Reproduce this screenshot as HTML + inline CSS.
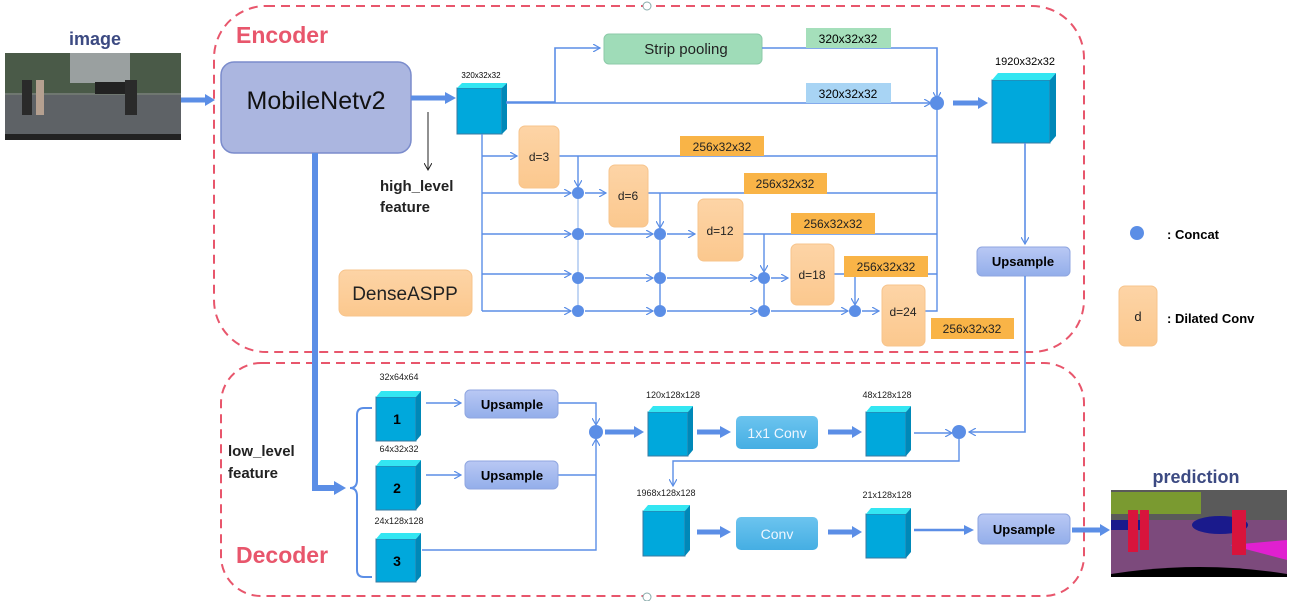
<!DOCTYPE html>
<html><head><meta charset="utf-8"><style>
html,body{margin:0;padding:0;background:#fff;}
svg{display:block;font-family:"Liberation Sans",Arial,sans-serif;}
</style></head><body>
<svg width="1289" height="601" viewBox="0 0 1289 601" xmlns="http://www.w3.org/2000/svg">
<defs>
<marker id="a" markerWidth="8" markerHeight="8" refX="7" refY="4" orient="auto" markerUnits="userSpaceOnUse"><path d="M0,0 L7,4 L0,8" fill="none" stroke="#5b8ee6" stroke-width="1.2"/></marker>
<marker id="k" markerWidth="8" markerHeight="8" refX="7" refY="4" orient="auto" markerUnits="userSpaceOnUse"><path d="M0,0 L7,4 L0,8" fill="none" stroke="#222" stroke-width="1"/></marker>
<linearGradient id="ob" x1="0" y1="0" x2="0" y2="1"><stop offset="0" stop-color="#fdd4a6"/><stop offset="1" stop-color="#fbc88e"/></linearGradient>
<linearGradient id="ub" x1="0" y1="0" x2="0" y2="1"><stop offset="0" stop-color="#b9c8f4"/><stop offset="1" stop-color="#93aeea"/></linearGradient>
<linearGradient id="cb" x1="0" y1="0" x2="0" y2="1"><stop offset="0" stop-color="#6cc4ef"/><stop offset="1" stop-color="#45aee3"/></linearGradient>
</defs>

<!-- dashed containers -->
<rect x="214" y="6" width="870" height="346" rx="52" fill="none" stroke="#e8566c" stroke-width="2" stroke-dasharray="9,6"/>
<rect x="221" y="363" width="863" height="233" rx="40" fill="none" stroke="#e8566c" stroke-width="2" stroke-dasharray="9,6"/>
<circle cx="647" cy="6" r="4" fill="#fff" stroke="#8aa" stroke-width="1"/>
<circle cx="647" cy="597" r="4" fill="#fff" stroke="#8aa" stroke-width="1"/>
<text x="236" y="43" font-size="23" font-weight="bold" fill="#e8566c">Encoder</text>
<text x="236" y="563" font-size="23" font-weight="bold" fill="#e8566c">Decoder</text>

<!-- input image -->
<text x="95" y="45" font-size="18" font-weight="bold" fill="#3c4a82" text-anchor="middle">image</text>
<rect x="5" y="53" width="176" height="87" fill="#6f7770"/>
<rect x="5" y="53" width="176" height="40" fill="#4a5a48"/>
<rect x="70" y="53" width="60" height="30" fill="#9aa0a0"/>
<rect x="5" y="95" width="176" height="45" fill="#5e6266"/>
<rect x="95" y="82" width="30" height="12" fill="#222"/>
<rect x="22" y="80" width="10" height="35" fill="#2a2a2a"/>
<rect x="36" y="80" width="8" height="35" fill="#b5a090"/>
<rect x="125" y="80" width="12" height="35" fill="#2a2a2a"/>
<rect x="5" y="134" width="176" height="6" fill="#222"/>
<path d="M181,100 H207" stroke="#5b8ee6" stroke-width="5"/><path d="M205,94 L215,100 L205,106Z" fill="#5b8ee6"/>

<!-- MobileNet -->
<rect x="221" y="62" width="190" height="91" rx="13" fill="#abb6e0" stroke="#7b8ccc" stroke-width="1.5"/>
<text x="316" y="109" font-size="25" text-anchor="middle" fill="#111">MobileNetv2</text>
<path d="M411,98 H447" stroke="#5b8ee6" stroke-width="5"/><path d="M445,92 L456,98 L445,104Z" fill="#5b8ee6"/>
<path d="M428,112 V170" stroke="#222" stroke-width="1" marker-end="url(#k)"/>
<text x="380" y="191" font-size="15" font-weight="bold" fill="#222">high_level</text>
<text x="380" y="212" font-size="15" font-weight="bold" fill="#222">feature</text>

<!-- low level thick path -->
<path d="M315,153 V488 H336" fill="none" stroke="#5b8ee6" stroke-width="6"/><path d="M334,481 L346,488 L334,495Z" fill="#5b8ee6"/>
<text x="228" y="456" font-size="15" font-weight="bold" fill="#222">low_level</text>
<text x="228" y="478" font-size="15" font-weight="bold" fill="#222">feature</text>
<path d="M372,408 H364 Q357,408 357,415 V480 Q357,488 350,488 Q357,488 357,496 V570 Q357,577 364,577 H372" fill="none" stroke="#5b8ee6" stroke-width="2"/>

<!-- cube 320x32x32 -->
<g>
<rect x="457" y="88" width="45" height="46" fill="#00a8dc" stroke="#3a7aa0"/>
<path d="M457,88 L462,83 L507,83 L502,88Z" fill="#33e6f2"/>
<path d="M502,88 L507,83 L507,129 L502,134Z" fill="#0088b8"/>
</g>
<text x="481" y="78" font-size="8" text-anchor="middle">320x32x32</text>

<!-- strip pooling branch -->
<path d="M506,102 H555 V48 H600" fill="none" stroke="#5b8ee6" stroke-width="1.6" marker-end="url(#a)"/>
<rect x="604" y="34" width="158" height="30" rx="5" fill="#9fdcb8" stroke="#8ccaa8"/>
<text x="686" y="54" font-size="15" text-anchor="middle" fill="#222">Strip pooling</text>
<path d="M762,48 H937 V99" fill="none" stroke="#5b8ee6" stroke-width="1.6" marker-end="url(#a)"/>
<rect x="806" y="28" width="85" height="20" fill="#a5dfbb"/>
<text x="848" y="43" font-size="12" text-anchor="middle">320x32x32</text>
<path d="M506,103 H931" fill="none" stroke="#5b8ee6" stroke-width="1.6" marker-end="url(#a)"/>
<rect x="806" y="83" width="85" height="20" fill="#a8d4f4"/>
<text x="848" y="98" font-size="12" text-anchor="middle">320x32x32</text>
<circle cx="937" cy="103" r="7" fill="#5b8ee6"/>
<path d="M953,103 H980" stroke="#5b8ee6" stroke-width="5"/><path d="M978,97 L988,103 L978,109Z" fill="#5b8ee6"/>

<!-- big cube -->
<rect x="992" y="80" width="58" height="63" fill="#00a8dc" stroke="#3a7aa0"/>
<path d="M992,80 L998,73 L1056,73 L1050,80Z" fill="#33e6f2"/>
<path d="M1050,80 L1056,73 L1056,136 L1050,143Z" fill="#0088b8"/>
<text x="1025" y="65" font-size="11" text-anchor="middle">1920x32x32</text>
<path d="M1025,143 V244" stroke="#5b8ee6" stroke-width="1.6" marker-end="url(#a)"/>
<rect x="977" y="247" width="93" height="29" rx="5" fill="url(#ub)" stroke="#8fa6e0"/>
<text x="1023" y="266" font-size="13" font-weight="bold" text-anchor="middle">Upsample</text>
<path d="M1025,276 V432 H969" fill="none" stroke="#5b8ee6" stroke-width="1.6" marker-end="url(#a)"/>

<!-- DenseASPP grid -->
<g fill="none" stroke="#5b8ee6" stroke-width="1.4">
<path d="M482,134 V311"/>
<path d="M482,156 H517" marker-end="url(#a)"/>
<path d="M482,193 H571" marker-end="url(#a)"/>
<path d="M482,234 H571" marker-end="url(#a)"/>
<path d="M482,274 H571" marker-end="url(#a)"/>
<path d="M482,311 H571" marker-end="url(#a)"/>
<path d="M937,108 V311 H925"/>
<path d="M559,156 H937"/>
<path d="M648,193 H937"/>
<path d="M743,234 H937"/>
<path d="M834,274 H937"/>
<path d="M578,156 V187" marker-end="url(#a)"/>
<path d="M578,199 V305" stroke="#a8c4f0"/>
<path d="M585,193 H606" marker-end="url(#a)"/>
<path d="M585,234 H653" marker-end="url(#a)"/>
<path d="M585,278 H653" marker-end="url(#a)"/>
<path d="M585,311 H653" marker-end="url(#a)"/>
<path d="M660,193 V228" marker-end="url(#a)"/>
<path d="M660,240 V305"/>
<path d="M667,234 H695" marker-end="url(#a)"/>
<path d="M667,278 H757" marker-end="url(#a)"/>
<path d="M667,311 H757" marker-end="url(#a)"/>
<path d="M764,234 V272" marker-end="url(#a)"/>
<path d="M764,284 V305"/>
<path d="M771,278 H788" marker-end="url(#a)"/>
<path d="M771,311 H848" marker-end="url(#a)"/>
<path d="M855,274 V305" marker-end="url(#a)"/>
<path d="M862,311 H879" marker-end="url(#a)"/>
</g>
<g fill="#5b8ee6">
<circle cx="578" cy="193" r="6"/><circle cx="578" cy="234" r="6"/><circle cx="578" cy="278" r="6"/><circle cx="578" cy="311" r="6"/>
<circle cx="660" cy="234" r="6"/><circle cx="660" cy="278" r="6"/><circle cx="660" cy="311" r="6"/>
<circle cx="764" cy="278" r="6"/><circle cx="764" cy="311" r="6"/>
<circle cx="855" cy="311" r="6"/>
</g>
<g stroke="#f7c48c" stroke-width="1" fill="url(#ob)">
<rect x="519" y="126" width="40" height="62" rx="6"/>
<rect x="609" y="165" width="39" height="62" rx="6"/>
<rect x="698" y="199" width="45" height="62" rx="6"/>
<rect x="791" y="244" width="43" height="61" rx="6"/>
<rect x="882" y="285" width="43" height="61" rx="6"/>
<rect x="339" y="270" width="133" height="46" rx="7"/>
<rect x="1119" y="286" width="38" height="60" rx="6"/>
</g>
<g font-size="12" text-anchor="middle" fill="#222">
<text x="539" y="161">d=3</text><text x="628" y="200">d=6</text><text x="720" y="235">d=12</text>
<text x="812" y="279">d=18</text><text x="903" y="316">d=24</text>
<text x="1138" y="321" font-size="13">d</text>
</g>
<text x="405" y="300" font-size="19" text-anchor="middle" fill="#222">DenseASPP</text>
<g fill="#f9b447">
<rect x="680" y="136" width="84" height="20"/><rect x="744" y="173" width="83" height="21"/>
<rect x="791" y="213" width="84" height="21"/><rect x="844" y="256" width="84" height="21"/>
<rect x="931" y="318" width="83" height="21"/>
</g>
<g font-size="12" text-anchor="middle" fill="#222">
<text x="722" y="151">256x32x32</text><text x="785" y="188">256x32x32</text>
<text x="833" y="228">256x32x32</text><text x="886" y="271">256x32x32</text>
<text x="972" y="333">256x32x32</text>
</g>

<!-- legend -->
<circle cx="1137" cy="233" r="7" fill="#5b8ee6"/>
<text x="1167" y="239" font-size="13" font-weight="bold">: Concat</text>
<text x="1167" y="323" font-size="13" font-weight="bold">: Dilated Conv</text>

<!-- decoder cubes -->
<g>
<rect x="376" y="397" width="40" height="44" fill="#00a8dc" stroke="#3a7aa0"/><path d="M376,397 L381,391 L421,391 L416,397Z" fill="#33e6f2"/><path d="M416,397 L421,391 L421,435 L416,441Z" fill="#0088b8"/>
<rect x="376" y="466" width="40" height="44" fill="#00a8dc" stroke="#3a7aa0"/><path d="M376,466 L381,460 L421,460 L416,466Z" fill="#33e6f2"/><path d="M416,466 L421,460 L421,504 L416,510Z" fill="#0088b8"/>
<rect x="376" y="539" width="40" height="43" fill="#00a8dc" stroke="#3a7aa0"/><path d="M376,539 L381,533 L421,533 L416,539Z" fill="#33e6f2"/><path d="M416,539 L421,533 L421,576 L416,582Z" fill="#0088b8"/>
<rect x="648" y="412" width="40" height="44" fill="#00a8dc" stroke="#3a7aa0"/><path d="M648,412 L653,406 L693,406 L688,412Z" fill="#33e6f2"/><path d="M688,412 L693,406 L693,450 L688,456Z" fill="#0088b8"/>
<rect x="866" y="412" width="40" height="44" fill="#00a8dc" stroke="#3a7aa0"/><path d="M866,412 L871,406 L911,406 L906,412Z" fill="#33e6f2"/><path d="M906,412 L911,406 L911,450 L906,456Z" fill="#0088b8"/>
<rect x="643" y="511" width="42" height="45" fill="#00a8dc" stroke="#3a7aa0"/><path d="M643,511 L648,505 L690,505 L685,511Z" fill="#33e6f2"/><path d="M685,511 L690,505 L690,550 L685,556Z" fill="#0088b8"/>
<rect x="866" y="514" width="40" height="44" fill="#00a8dc" stroke="#3a7aa0"/><path d="M866,514 L871,508 L911,508 L906,514Z" fill="#33e6f2"/><path d="M906,514 L911,508 L911,552 L906,558Z" fill="#0088b8"/>
</g>
<g font-size="14" font-weight="bold" text-anchor="middle"><text x="397" y="424">1</text><text x="397" y="493">2</text><text x="397" y="566">3</text></g>
<g font-size="9" text-anchor="middle" fill="#222">
<text x="399" y="380">32x64x64</text><text x="399" y="452">64x32x32</text><text x="399" y="524">24x128x128</text>
<text x="673" y="398">120x128x128</text><text x="887" y="398">48x128x128</text>
<text x="666" y="496">1968x128x128</text><text x="887" y="498">21x128x128</text>
</g>

<g fill="none" stroke="#5b8ee6" stroke-width="1.4">
<path d="M426,403 H461" marker-end="url(#a)"/>
<path d="M426,475 H461" marker-end="url(#a)"/>
<path d="M558,403 H596 V425" marker-end="url(#a)"/>
<path d="M558,475 H596"/>
<path d="M422,550 H596 V439" marker-end="url(#a)"/>
<path d="M914,433 H952" marker-end="url(#a)"/>
<path d="M959,439 V461 H673 V486" marker-end="url(#a)"/>
</g>
<circle cx="596" cy="432" r="7" fill="#5b8ee6"/>
<circle cx="959" cy="432" r="7" fill="#5b8ee6"/>
<rect x="465" y="390" width="93" height="28" rx="5" fill="url(#ub)" stroke="#8fa6e0"/>
<rect x="465" y="461" width="93" height="28" rx="5" fill="url(#ub)" stroke="#8fa6e0"/>
<rect x="978" y="514" width="92" height="30" rx="5" fill="url(#ub)" stroke="#8fa6e0"/>
<g font-size="13" font-weight="bold" text-anchor="middle"><text x="512" y="409">Upsample</text><text x="512" y="480">Upsample</text><text x="1024" y="534">Upsample</text></g>

<g fill="#5b8ee6">
<path d="M605,432 H636" stroke="#5b8ee6" stroke-width="5"/><path d="M634,426 L644,432 L634,438Z"/>
<path d="M697,432 H722" stroke="#5b8ee6" stroke-width="5"/><path d="M720,426 L731,432 L720,438Z"/>
<path d="M828,432 H854" stroke="#5b8ee6" stroke-width="5"/><path d="M852,426 L862,432 L852,438Z"/>
<path d="M697,532 H722" stroke="#5b8ee6" stroke-width="5"/><path d="M720,526 L731,532 L720,538Z"/>
<path d="M828,532 H854" stroke="#5b8ee6" stroke-width="5"/><path d="M852,526 L862,532 L852,538Z"/>
<path d="M914,530 H966" stroke="#5b8ee6" stroke-width="2.5"/><path d="M964,525 L974,530 L964,535Z"/>
<path d="M1072,530 H1102" stroke="#5b8ee6" stroke-width="5"/><path d="M1100,524 L1110,530 L1100,536Z"/>
</g>
<rect x="736" y="416" width="82" height="33" rx="5" fill="url(#cb)"/>
<rect x="736" y="517" width="82" height="33" rx="5" fill="url(#cb)"/>
<text x="777" y="438" font-size="14" text-anchor="middle" fill="#eef6ff">1x1 Conv</text>
<text x="777" y="539" font-size="14" text-anchor="middle" fill="#eef6ff">Conv</text>

<!-- prediction -->
<text x="1196" y="483" font-size="18" font-weight="bold" fill="#3c4a82" text-anchor="middle">prediction</text>
<rect x="1111" y="490" width="176" height="87" fill="#7c4a7c"/>
<rect x="1111" y="490" width="176" height="30" fill="#5a5a5a"/>
<rect x="1111" y="492" width="90" height="22" fill="#7a9a30"/>
<rect x="1111" y="520" width="30" height="10" fill="#1a1a8c"/>
<ellipse cx="1220" cy="525" rx="28" ry="9" fill="#1a1a8c"/>
<path d="M1230,545 L1287,540 L1287,560 Z" fill="#e020d0"/>
<rect x="1128" y="510" width="10" height="42" fill="#d8143c"/>
<rect x="1140" y="510" width="9" height="40" fill="#d8143c"/>
<rect x="1232" y="510" width="14" height="45" fill="#d8143c"/>
<path d="M1111,574 Q1200,560 1287,574 V577 H1111Z" fill="#000"/>
</svg>
</body></html>
